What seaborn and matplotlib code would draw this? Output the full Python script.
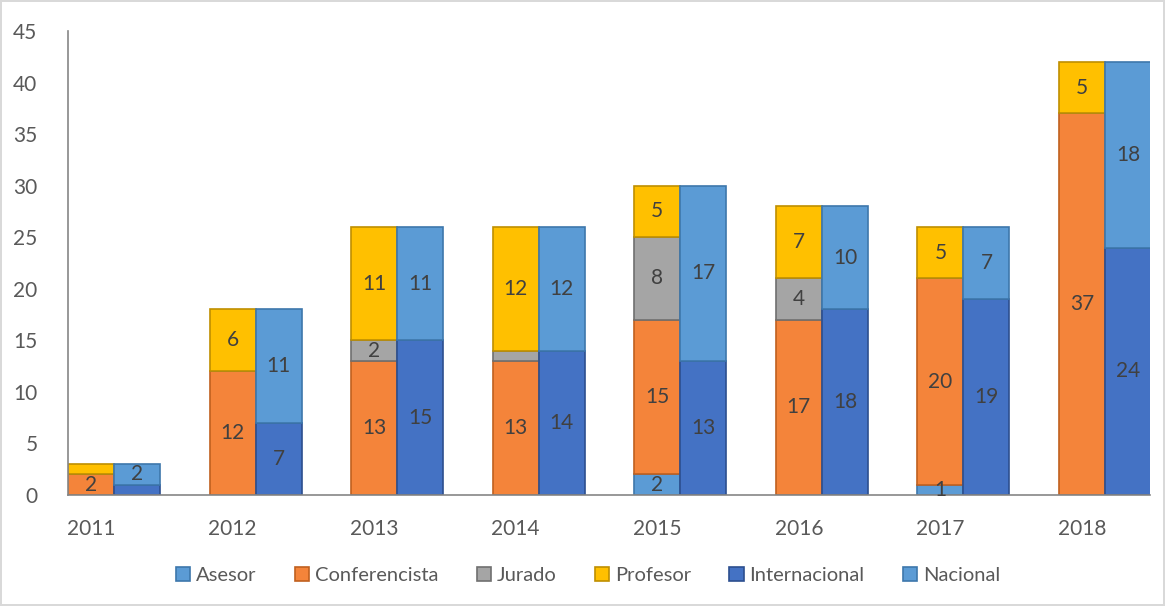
import numpy as np
import seaborn as sns
from matplotlib import pyplot as plt

years = ['2011', '2012', '2013', '2014', '2015', '2016', '2017', '2018']

# left stack: type of participation
asesor = [0, 0, 0, 0, 2, 0, 1, 0]
conferencista = [2, 12, 13, 13, 15, 17, 20, 37]
jurado = [0, 0, 2, 1, 8, 4, 0, 0]
profesor = [1, 6, 11, 12, 5, 7, 5, 5]

# right stack: scope
internacional = [1, 7, 15, 14, 13, 18, 19, 24]
nacional = [2, 11, 11, 12, 17, 10, 7, 18]

sns.set_style('white')
plt.rcParams['font.family'] = ['Lato', 'DejaVu Sans']

fig = plt.figure(figsize=(11.65, 6.06), dpi=100, linewidth=1.5, edgecolor='#d9d9d9')
ax = fig.add_axes([68 / 1165, 1 - 495 / 606, (1150 - 68) / 1165, (495 - 31) / 606])

x = np.arange(len(years))
w = 0.325

left_series = [('Asesor', asesor, '#5b9bd5', '#3d77ac'),
               ('Conferencista', conferencista, '#f4843a', '#c0601f'),
               ('Jurado', jurado, '#a5a5a5', '#707070'),
               ('Profesor', profesor, '#ffc000', '#bf8f00')]
right_series = [('Internacional', internacional, '#4472c4', '#2c4f8f'),
                ('Nacional', nacional, '#5b9bd5', '#3d77ac')]


def draw_stack(xpos, series):
    bottom = np.zeros(len(years))
    for name, vals, color, edge in series:
        vals = np.array(vals, dtype=float)
        ax.bar(xpos, vals, w, bottom=bottom, color=color, edgecolor=edge,
               linewidth=1.2, label=name)
        for xi, b, v in zip(xpos, bottom, vals):
            if v >= 2 or (name == 'Asesor' and v == 1):
                ax.text(xi, b + v / 2, f'{int(v)}', ha='center', va='center',
                        fontsize=15, color='#404040')
        bottom += vals


draw_stack(x, left_series)
draw_stack(x + w, right_series)

ax.set_xlim(-w / 2, 7.48)
ax.set_ylim(0, 45)
ax.set_yticks(range(0, 46, 5))
ax.set_xticks(x)
ax.set_xticklabels(years)
ax.tick_params(axis='both', labelsize=15, labelcolor='#595959', length=0)
ax.tick_params(axis='x', pad=17)
ax.tick_params(axis='y', pad=22)

for s in ['top', 'right']:
    ax.spines[s].set_visible(False)
for s in ['left', 'bottom']:
    ax.spines[s].set_color('#868686')
    ax.spines[s].set_linewidth(1.2)

ax.legend(loc='center', bbox_to_anchor=(0.5 - 68 / 1165 / 2 + 0.01, -0.173), ncol=6,
          frameon=False, fontsize=14.5, labelcolor='#595959',
          handlelength=0.7, handleheight=0.7, handletextpad=0.3, columnspacing=1.9)

fig.savefig('out.png', dpi=100, edgecolor=fig.get_edgecolor())
